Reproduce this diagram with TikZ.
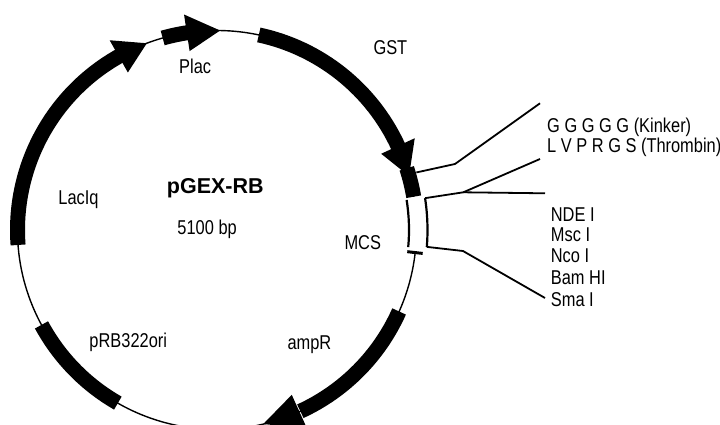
\documentclass[tikz,border=0pt]{standalone}
\usepackage{fontspec}
\setmainfont{Liberation Sans}
\newfontfamily\narrowfont{Liberation Sans}[FakeStretch=0.82]
\begin{document}
\begin{tikzpicture}[x=1pt,y=1pt,
  thinline/.style={line width=1.4pt},
  barline/.style={line width=15pt, line cap=butt},
  mcsline/.style={line width=2.2pt},
  callout/.style={line width=1.8pt, line join=miter},
  lbl/.style={font=\narrowfont\fontsize{20}{24}\selectfont, inner sep=0pt, anchor=base west},
  title/.style={font=\bfseries\fontsize{21.5}{26}\selectfont, inner sep=0pt, anchor=base west}]
\def\R{199.5pt}
\useasboundingbox (-217,-195) rectangle (503,230);
% backbone
\draw[thinline] (-6.5:\R) arc[start angle=-6.5, end angle=-350.4, radius=\R];
% LacIq
\draw[barline] (184.3:\R) arc[start angle=184.3, end angle=119.2, radius=\R];
\fill (119.5:{\R-18.5pt}) -- (110.6:\R) -- (119.5:{\R+18.5pt}) -- cycle;
% Plac
\draw[barline] (105.8:\R) arc[start angle=105.8, end angle=98.4, radius=\R];
\fill (98.7:{\R-18.5pt}) -- (89.1:\R) -- (98.7:{\R+18.5pt}) -- cycle;
% GST
\draw[barline] (77.9:\R) arc[start angle=77.9, end angle=24.6, radius=\R];
\fill (24.9:{\R-18.5pt}) -- (15.7:\R) -- (24.9:{\R+18.5pt}) -- cycle;
% linker / thrombin block
\draw[barline] (18:\R) arc[start angle=18, end angle=9.6, radius=\R];
% ampR
\draw[barline] (-24.1:\R) arc[start angle=-24.1, end angle=-65.3, radius=\R];
\fill (-65.6:{\R-18.5pt}) -- (-76.6:\R) -- (-65.6:{\R+18.5pt}) -- cycle;
% pRB322ori
\draw[barline] (208.4:\R) arc[start angle=208.4, end angle=240.2, radius=\R];
% MCS brackets
\draw[mcsline] (9:192pt) arc[start angle=9, end angle=-5.1, radius=192pt];
\draw[mcsline] (8.7:210.5pt) arc[start angle=8.7, end angle=-4.6, radius=210.5pt];
\draw[line width=3pt] (-6.5:191.5pt) -- (-6.5:207pt);
% callout coordinates
\coordinate (k0) at (16.1:207.5pt);
\coordinate (k1) at (238,66);
\coordinate (k2) at (323,126.7);
\coordinate (t0) at (8.7:210.5pt);
\coordinate (t1) at (246.3,37.7);
\coordinate (t2) at (323,71);
\coordinate (t3) at (328,36.7);
\coordinate (s0) at (-4.6:210.5pt);
\coordinate (s1) at (246,-21);
\coordinate (s2) at (328,-68);
\draw[callout] (k0) -- (k1) -- (k2);
\draw[callout] (t0) -- (t1) -- (t2);
\draw[callout] (t1) -- (t3);
\draw[callout] (s0) -- (s1) -- (s2);
% labels
\node[lbl] (plac) at (-38,156) {Plac};
\node[lbl] (gst) at (156.3,175.7) {GST};
\node[lbl] (laciq) at (-158.7,25) {LacIq};
\node[title] (name) at (-50.3,36.7) {pGEX-RB};
\node[lbl] (size) at (-39.7,-5) {5100 bp};
\node[lbl] (mcs) at (127.3,-20) {MCS};
\node[lbl] (ampr) at (70.3,-120) {ampR};
\node[lbl] (ori) at (-127.7,-117.7) {pRB322ori};
\node[lbl] (kinker) at (330,97.3) {G G G G G (Kinker)};
\node[lbl] (thrombin) at (330,77) {L V P R G S (Thrombin)};
\node[lbl] (nde) at (333.7,8.3) {NDE I};
\node[lbl] (msc) at (333.7,-11.7) {Msc I};
\node[lbl] (nco) at (333.7,-33) {Nco I};
\node[lbl] (bam) at (333.7,-55) {Bam HI};
\node[lbl] (sma) at (333.7,-76.7) {Sma I};
\end{tikzpicture}
\end{document}
